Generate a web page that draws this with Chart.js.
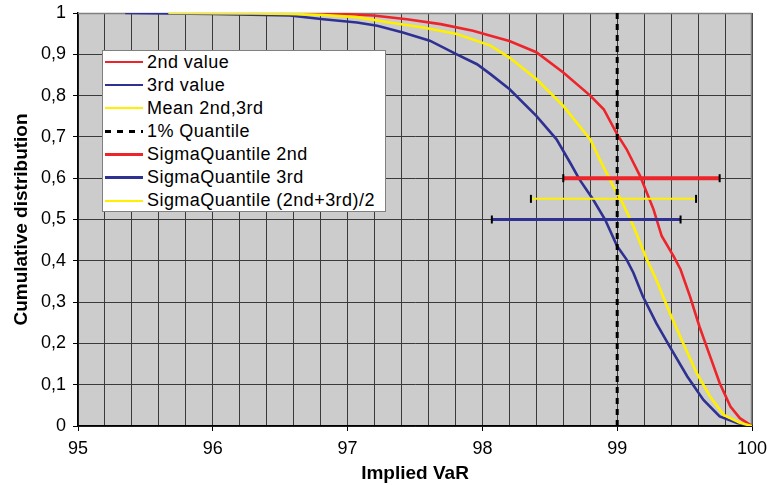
<!DOCTYPE html>
<html>
<head>
<meta charset="utf-8">
<script src="https://cdn.jsdelivr.net/npm/chart.js@4/dist/chart.umd.min.js"></script>
<style>
  html, body { margin: 0; padding: 0; background: #fff; }
  #wrap { position: relative; width: 767px; height: 485px; }
  #legend { position: absolute; left: 102px; top: 50px; width: 284px; height: 162px; box-sizing: border-box;
            border: 1px solid #808080; background: #fff; font-family: "Liberation Sans", Arial, sans-serif;
            font-size: 18px; letter-spacing: 0.45px; color: #000; }
  .row { position: absolute; left: 0; height: 22px; line-height: 22px; white-space: nowrap; }
  .sample { position: absolute; left: 2px; width: 38px; }
  .label { position: absolute; left: 44px; top: 0; }
</style>
</head>
<body>
<div id="wrap">
  <canvas id="c" width="767" height="485"></canvas>
  <div id="legend"></div>
</div>
<script>
// ---- data ----
const xTickLabels = ['95', '96', '97', '98', '99', '100'];
const yTickLabels = ['0', '0,1', '0,2', '0,3', '0,4', '0,5', '0,6', '0,7', '0,8', '0,9', '1'];

const secondX = [96.22, 96.6, 97.0, 97.19, 97.44, 97.69, 97.93, 98.06, 98.2, 98.4, 98.6, 98.8, 98.9, 99.0, 99.07, 99.17, 99.27, 99.33, 99.42, 99.47, 99.54, 99.61, 99.69, 99.76, 99.84, 99.91, 100];
const secondY = [1.0, 0.999, 0.997, 0.994, 0.985, 0.973, 0.957, 0.945, 0.932, 0.905, 0.856, 0.80, 0.767, 0.706, 0.67, 0.605, 0.524, 0.46, 0.41, 0.379, 0.314, 0.241, 0.168, 0.104, 0.047, 0.019, 0];

const thirdX = [95.35, 96.0, 96.57, 96.82, 97.07, 97.22, 97.41, 97.61, 97.81, 97.96, 98.06, 98.2, 98.4, 98.55, 98.65, 98.72, 98.82, 98.91, 99.0, 99.07, 99.12, 99.19, 99.29, 99.39, 99.52, 99.64, 99.76, 99.89, 100];
const thirdY = [1.0, 0.998, 0.994, 0.985, 0.977, 0.969, 0.953, 0.933, 0.90, 0.876, 0.852, 0.816, 0.751, 0.694, 0.638, 0.597, 0.549, 0.5, 0.435, 0.403, 0.371, 0.314, 0.249, 0.192, 0.12, 0.063, 0.023, 0.007, 0];

const meanX = [95.67, 96.3, 96.57, 96.82, 97.07, 97.31, 97.56, 97.81, 98.06, 98.2, 98.4, 98.6, 98.8, 98.87, 98.97, 99.04, 99.12, 99.22, 99.29, 99.39, 99.49, 99.59, 99.69, 99.79, 99.91, 100];
const meanY = [1.0, 0.999, 0.998, 0.995, 0.99, 0.977, 0.965, 0.949, 0.921, 0.892, 0.84, 0.775, 0.694, 0.646, 0.581, 0.54, 0.484, 0.403, 0.354, 0.274, 0.2, 0.128, 0.071, 0.027, 0.008, 0];

const quantileX = [99, 99];
const quantileY = [0, 1];

const sigma2ndX = [98.60, 99.76];
const sigma2ndY = [0.6, 0.6];
const sigma3rdX = [98.07, 99.47];
const sigma3rdY = [0.5, 0.5];
const sigmaMeanX = [98.36, 99.585];
const sigmaMeanY = [0.55, 0.55];

const seriesNames = ['2nd value', '3rd value', 'Mean 2nd,3rd', '1% Quantile', 'SigmaQuantile 2nd', 'SigmaQuantile 3rd', 'SigmaQuantile (2nd+3rd)/2'];

// ---- styling ----
const RED = 'rgb(237,36,42)';
const BLUE = 'rgb(46,49,146)';
const YELLOW = 'rgb(255,240,0)';

function pts(xs, ys) { return xs.map((x, i) => ({ x: x, y: ys[i] })); }

function curve(name, xs, ys, color, order) {
  return { label: name, data: pts(xs, ys), borderColor: color, borderWidth: 2.6, pointRadius: 0,
           showLine: true, tension: 0, fill: false, order: order };
}
function bar(name, xs, ys, color, width, order) {
  return { label: name, data: pts(xs, ys), borderColor: color, borderWidth: width, showLine: true,
           pointStyle: 'line', rotation: 90, pointRadius: 4, pointBorderColor: '#000', pointBorderWidth: 2,
           pointBackgroundColor: '#000', fill: false, order: order };
}

const datasets = [
  curve(seriesNames[0], secondX, secondY, RED, 7),
  curve(seriesNames[1], thirdX, thirdY, BLUE, 6),
  curve(seriesNames[2], meanX, meanY, YELLOW, 5),
  { label: seriesNames[3], data: pts(quantileX, quantileY), borderColor: '#000', borderWidth: 3, borderDash: [6, 5],
    pointRadius: 0, showLine: true, fill: false, order: 4 },
  bar(seriesNames[4], sigma2ndX, sigma2ndY, RED, 4, 3),
  bar(seriesNames[5], sigma3rdX, sigma3rdY, BLUE, 3, 2),
  bar(seriesNames[6], sigmaMeanX, sigmaMeanY, YELLOW, 2, 1)
];

const isInt = v => Math.abs(v - Math.round(v)) < 1e-6;
const FONT = "'Liberation Sans', Arial, sans-serif";

const plotBg = {
  id: 'plotBg',
  beforeDraw(chart) {
    const a = chart.chartArea, ctx = chart.ctx;
    ctx.save();
    ctx.fillStyle = '#cccccc';
    ctx.fillRect(a.left, a.top, a.right - a.left, a.bottom - a.top);
    ctx.restore();
  },
  beforeDatasetsDraw(chart) {
    const a = chart.chartArea, ctx = chart.ctx;
    ctx.save();
    ctx.strokeStyle = '#808080';
    ctx.lineWidth = 1.5;
    ctx.beginPath();
    ctx.moveTo(a.left, a.top + 0.5);
    ctx.lineTo(a.right - 0.5, a.top + 0.5);
    ctx.lineTo(a.right - 0.5, a.bottom);
    ctx.stroke();
    ctx.restore();
  }
};

new Chart(document.getElementById('c'), {
  type: 'scatter',
  data: { datasets: datasets },
  options: {
    responsive: false,
    animation: false,
    layout: { autoPadding: false, padding: { left: 0, right: 15, top: 13, bottom: 0 } },
    plugins: { legend: { display: false }, tooltip: { enabled: false } },
    scales: {
      x: {
        type: 'linear', min: 95, max: 100,
        afterFit(s) { s.height = 59; s.paddingLeft = 0; s.paddingRight = 0; },
        ticks: {
          stepSize: 0.2, autoSkip: false, maxRotation: 0, padding: 7, color: '#000',
          font: { family: FONT, size: 18 },
          callback: v => isInt(v) ? xTickLabels[Math.round(v) - 95] : ''
        },
        grid: {
          color: '#3a3a3a', lineWidth: 1, tickLength: 5,
          tickColor: c => (c.tick && isInt(c.tick.value)) ? '#000' : 'rgba(0,0,0,0)'
        },
        border: { display: true, color: '#000', width: 1.5 },
        title: { display: true, text: 'Implied VaR', color: '#000', padding: { top: 0, bottom: 0 },
                 font: { family: FONT, size: 19, weight: 'bold' } }
      },
      y: {
        type: 'linear', min: 0, max: 1,
        afterFit(s) { s.width = 78; s.paddingTop = 0; s.paddingBottom = 0; },
        ticks: {
          stepSize: 0.1, padding: 7, color: '#000',
          font: { family: FONT, size: 18 },
          callback: v => yTickLabels[Math.round(v * 10)]
        },
        grid: { color: '#3a3a3a', lineWidth: 1, tickLength: 5, tickColor: '#000' },
        border: { display: true, color: '#000', width: 1.5 },
        title: { display: true, text: 'Cumulative distribution', color: '#000', padding: { top: 10, bottom: 0 },
                 font: { family: FONT, size: 19, weight: 'bold' } }
      }
    }
  },
  plugins: [plotBg]
});

// ---- legend (HTML text) ----
const legendStyles = [
  { color: RED, w: 2 }, { color: BLUE, w: 2 }, { color: YELLOW, w: 2 }, { dash: true },
  { color: RED, w: 3 }, { color: BLUE, w: 3 }, { color: YELLOW, w: 2 }
];
const legend = document.getElementById('legend');
seriesNames.forEach((name, i) => {
  const row = document.createElement('div');
  row.className = 'row';
  const center = 61.5 + i * 23.1 - 51;   // relative to legend content box
  row.style.top = (center - 11) + 'px';
  row.style.width = '280px';
  const s = document.createElement('div');
  s.className = 'sample';
  const st = legendStyles[i];
  if (st.dash) {
    s.style.height = '3px';
    s.style.top = '10px';
    s.style.background = 'repeating-linear-gradient(90deg, #000 0 6px, transparent 6px 12px)';
  } else {
    s.style.height = st.w + 'px';
    s.style.top = (11.5 - st.w / 2) + 'px';
    s.style.background = st.color;
  }
  const t = document.createElement('span');
  t.className = 'label';
  t.textContent = name;
  row.appendChild(s);
  row.appendChild(t);
  legend.appendChild(row);
});
</script>
</body>
</html>
